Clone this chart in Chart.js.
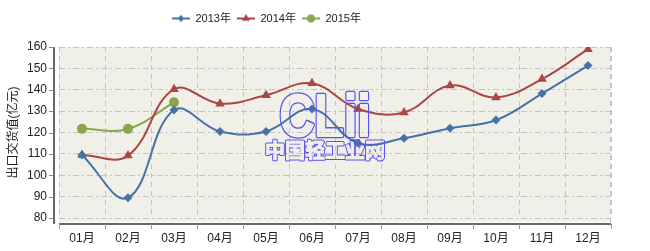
<!DOCTYPE html>
<html>
<head>
<meta charset="utf-8">
<script src="https://cdn.jsdelivr.net/npm/chart.js@4.4.1/dist/chart.umd.min.js"></script>
<style>
    body { margin: 0; background: #fff; }
    #wrap { width: 650px; height: 251px; }
</style>
</head>
<body>
<div id="wrap"><canvas id="myChart"></canvas></div>
<script>
const months = ["01月", "02月", "03月", "04月", "05月", "06月", "07月", "08月", "09月", "10月", "11月", "12月"];
const seriesNames = ["2013年", "2014年", "2015年"];
const values2013 = [109.5, 89.5, 130.5, 120.5, 120.5, 131, 115, 117.3, 122, 125.8, 138.2, 151.3];
const values2014 = [109.5, 109.2, 140.2, 133.5, 137.4, 143, 131, 129.4, 142, 136.4, 145, 159];
const values2015 = [121.7, 121.7, 134.1];
const yTicks = { min: 80, max: 160, step: 10 };

const colors = ["#4572A7", "#AA4643", "#89A54E"];
const markers = ["rectRot", "triangle", "circle"];
const radii = [4.5, 5.5, 5];
const fontFamily = "'Liberation Sans', 'Noto Sans CJK SC', sans-serif";
const plotBg = "#f0f0e9";

// little canvas: line with marker for legend
function legendIcon(i) {
    const c = document.createElement('canvas');
    c.width = 18; c.height = 12;
    const g = c.getContext('2d');
    g.strokeStyle = colors[i];
    g.lineWidth = 2;
    g.beginPath(); g.moveTo(0, 6); g.lineTo(18, 6); g.stroke();
    g.fillStyle = colors[i];
    Chart.helpers.drawPoint(g, { pointStyle: markers[i], radius: radii[i] - 1, borderWidth: 0 }, 9, 6);
    return c;
}

// legend box: keep chart area top at 47 and move items where the original had them
const legendPlace = {
    id: 'legendPlace',
    beforeInit(chart) {
        const lg = chart.legend;
        const fit = lg.fit.bind(lg);
        lg.fit = function () { fit(); this.height = 47; };
    },
    afterUpdate(chart) {
        chart.legend.left = 166;
        chart.legend.top = 7;
    }
};

const axisPlugin = {
    id: 'axisDeco',
    beforeDraw(chart) {
        const ctx = chart.ctx, a = chart.chartArea;
        ctx.save();
        ctx.fillStyle = plotBg;
        ctx.fillRect(a.left, a.top, a.right - a.left, a.bottom - a.top + 4);
        ctx.restore();
    },
    afterDraw(chart) {
        const ctx = chart.ctx, a = chart.chartArea;
        const x = chart.scales.x, y = chart.scales.y;
        ctx.save();
        ctx.strokeStyle = "#333";
        ctx.lineWidth = 1.5;
        // y axis line
        ctx.beginPath();
        ctx.moveTo(a.left - 5, a.top);
        ctx.lineTo(a.left - 5, a.bottom + 6);
        ctx.stroke();
        ctx.lineWidth = 1;
        ctx.strokeStyle = "#888";
        y.ticks.forEach(t => {
            const py = Math.round(y.getPixelForValue(t.value)) + 0.5;
            ctx.beginPath(); ctx.moveTo(a.left - 10, py); ctx.lineTo(a.left - 5, py); ctx.stroke();
        });
        // x axis line
        ctx.strokeStyle = "#333";
        ctx.lineWidth = 1.5;
        ctx.beginPath();
        ctx.moveTo(a.left, a.bottom + 6);
        ctx.lineTo(a.right, a.bottom + 6);
        ctx.stroke();
        ctx.lineWidth = 1;
        ctx.strokeStyle = "#999";
        const edges = [a.left];
        for (let i = 1; i < months.length; i++) {
            edges.push((x.getPixelForTick(i) + x.getPixelForTick(i - 1)) / 2);
        }
        edges.push(a.right);
        edges.forEach(px => {
            px = Math.round(px) + 0.5;
            ctx.beginPath(); ctx.moveTo(px, a.bottom + 6); ctx.lineTo(px, a.bottom + 11); ctx.stroke();
        });
        // right edge grid line
        ctx.setLineDash([5, 4]);
        ctx.strokeStyle = "#c4c4c4";
        ctx.beginPath(); ctx.moveTo(a.right - 0.5, a.top); ctx.lineTo(a.right - 0.5, a.bottom + 4); ctx.stroke();
        ctx.restore();

        // watermark
        const off = document.createElement('canvas');
        off.width = chart.width; off.height = chart.height;
        const g = off.getContext('2d');
        g.lineJoin = 'round';
        g.textAlign = 'center';
        g.textBaseline = 'alphabetic';
        const cx = 325;
        g.save();
        g.translate(cx, 136);
        g.scale(1.05, 1.3);
        g.font = "bold 46px 'Liberation Sans', sans-serif";
        g.strokeStyle = "#5a52f0";
        g.lineWidth = 3.6;
        g.strokeText("CLii", 0, 0);
        g.globalCompositeOperation = 'destination-out';
        g.lineWidth = 1.4;
        g.strokeText("CLii", 0, 0);
        g.fillText("CLii", 0, 0);
        g.restore();
        g.save();
        g.font = "bold 20px 'Noto Sans CJK SC', sans-serif";
        g.strokeStyle = "#5a52f0";
        g.lineWidth = 3;
        g.strokeText("中国轻工业网", cx, 158);
        g.globalCompositeOperation = 'destination-out';
        g.lineWidth = 1;
        g.strokeText("中国轻工业网", cx, 158);
        g.fillText("中国轻工业网", cx, 158);
        g.restore();
        chart.ctx.drawImage(off, 0, 0, chart.width, chart.height);
    }
};

const chart = document.getElementById('myChart');
const seriesValues = [values2013, values2014, values2015];

new Chart(chart, {
    type: 'line',
    data: {
        labels: months,
        datasets: seriesValues.map((vals, i) => ({
            label: seriesNames[i],
            data: vals,
            borderColor: colors[i],
            backgroundColor: colors[i],
            borderWidth: 2,
            pointStyle: markers[i],
            pointRadius: radii[i],
            pointBorderWidth: 0,
            tension: 0.4,
            fill: false,
        }))
    },
    options: {
        responsive: true,
        maintainAspectRatio: false,
        animation: false,
        layout: { padding: { top: 0, right: 39, left: 0, bottom: 0 } },
        plugins: {
            tooltip: { enabled: false },
            legend: {
                position: 'top',
                align: 'start',
                labels: {
                    usePointStyle: true,
                    pointStyleWidth: 18,
                    padding: 6,
                    color: "#222",
                    font: { family: fontFamily, size: 11 },
                    generateLabels(c) {
                        const items = Chart.defaults.plugins.legend.labels.generateLabels(c);
                        items.forEach(it => { it.pointStyle = legendIcon(it.datasetIndex); });
                        return items;
                    }
                }
            }
        },
        scales: {
            x: {
                offset: true,
                grid: {
                    offset: true,
                    color: "#c4c4c4",
                    drawTicks: false,
                },
                border: { display: false, dash: [5, 4] },
                ticks: { color: "#222", padding: 13, font: { family: fontFamily, size: 12 } },
                afterFit(s) { s.height = 33; }
            },
            y: {
                min: yTicks.min,
                max: yTicks.max,
                ticks: { stepSize: yTicks.step, color: "#222", padding: 12, font: { family: fontFamily, size: 12 } },
                grid: { color: "#c4c4c4", drawTicks: false },
                border: { display: false, dash: [6, 3, 2, 3] },
                title: {
                    display: true,
                    text: "出口交货值(亿元)",
                    color: "#222",
                    font: { family: fontFamily, size: 12 },
                    padding: { top: 6, bottom: 0 }
                },
                afterFit(s) { s.width = 59; }
            }
        }
    },
    plugins: [legendPlace, axisPlugin]
});
</script>
</body>
</html>
